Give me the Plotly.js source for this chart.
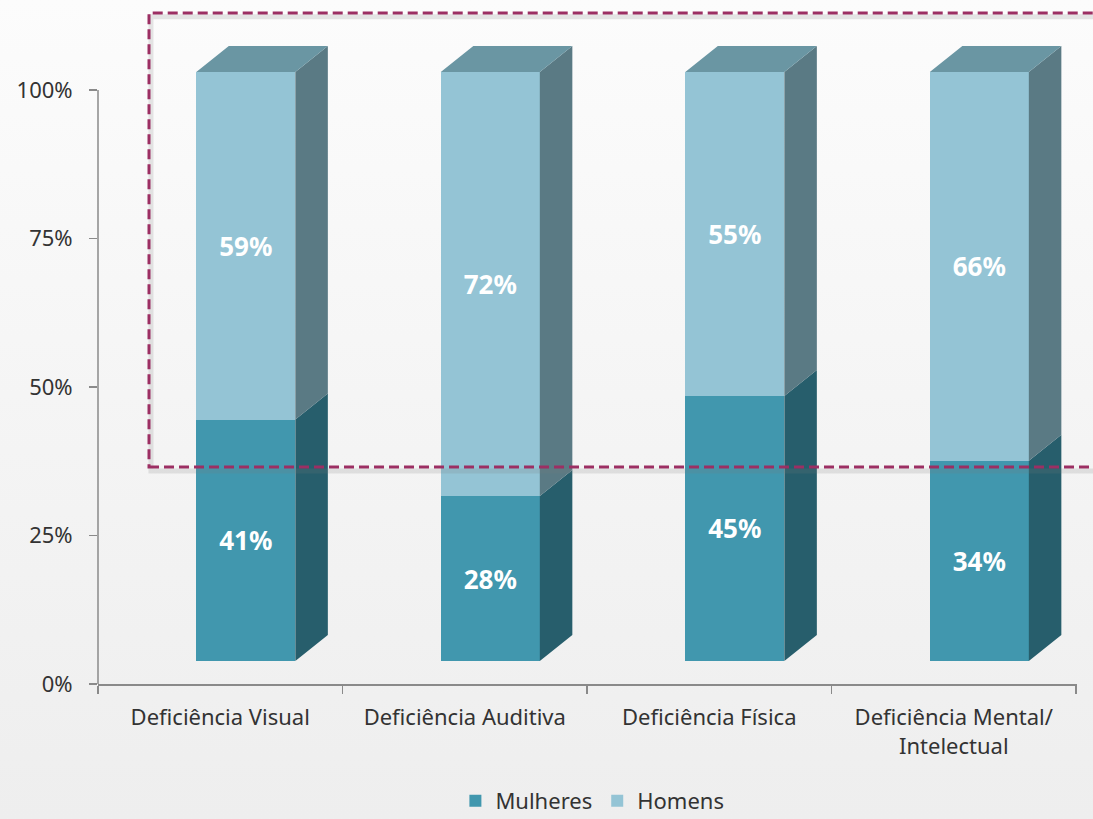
<!DOCTYPE html>
<html>
<head>
<meta charset="utf-8">
<script src="https://cdn.plot.ly/plotly-3.0.1.min.js"></script>
<style>
  html, body { margin:0; padding:0; width:1093px; height:819px; overflow:hidden;
    background: linear-gradient(to bottom, #fcfcfc 0%, #f4f4f4 55%, #eeeeee 100%); }
  #chart { width:1093px; height:819px; }
</style>
</head>
<body>
<div id="chart"></div>
<script>
// ---- data ----
const categories = ['Deficiência Visual', 'Deficiência Auditiva', 'Deficiência Física', 'Deficiência Mental/<br>Intelectual'];
const mulheres = [41, 28, 45, 34];
const homens = [59, 72, 55, 66];
const yTickVals = [0, 25, 50, 75, 100];
const yTickLabels = ['0%', '25%', '50%', '75%', '100%'];

// ---- style ----
const FONT = 'Noto Sans, Open Sans, sans-serif';
const colMulFront = '#4197ae', colMulSide = '#275e6c';
const colHomFront = '#94c4d5', colHomSide = '#5a7a84', colTop = '#6a96a3';
const BAR_W = 0.405, BAR_OFF = -0.098;   // bar width / offset in category units
const DX = 0.133, DY = 4.41;             // 3D depth offsets (x units, y units)

const idx = categories.map((_, i) => i);
const totals = mulheres.map((v, i) => v + homens[i]);

function sideFaces(bases, tops) {
  const xs = [], ys = [];
  idx.forEach(i => {
    const xr = i + BAR_OFF + BAR_W;
    xs.push(xr, xr + DX, xr + DX, xr, xr, null);
    ys.push(bases[i], bases[i] + DY, tops[i] + DY, tops[i], bases[i], null);
  });
  return {xs, ys};
}
function topFaces(tops) {
  const xs = [], ys = [];
  idx.forEach(i => {
    const xl = i + BAR_OFF, xr = xl + BAR_W;
    xs.push(xl, xr, xr + DX, xl + DX, xl, null);
    ys.push(tops[i], tops[i], tops[i] + DY, tops[i] + DY, tops[i], null);
  });
  return {xs, ys};
}

const sMul = sideFaces(idx.map(() => 0), mulheres);
const sHom = sideFaces(mulheres, totals);
const tTop = topFaces(totals);

const textFont = {family: FONT, size: 26, color: '#ffffff', weight: 'bold'};

const traces = [
  {type: 'bar', name: 'Mulheres', x: idx, y: mulheres, width: BAR_W, offset: BAR_OFF,
   marker: {color: colMulFront, line: {width: 0}},
   text: mulheres.map(v => v + '%'), textposition: 'inside', insidetextanchor: 'middle',
   textangle: 0, textfont: textFont, hoverinfo: 'skip'},
  {type: 'bar', name: 'Homens', x: idx, y: homens, width: BAR_W, offset: BAR_OFF,
   marker: {color: colHomFront, line: {width: 0}},
   text: homens.map(v => v + '%'), textposition: 'inside', insidetextanchor: 'middle',
   textangle: 0, textfont: textFont, hoverinfo: 'skip'},
  {type: 'scatter', mode: 'lines', x: sMul.xs, y: sMul.ys, fill: 'toself', fillcolor: colMulSide,
   line: {width: 0, color: colMulSide}, showlegend: false, hoverinfo: 'skip'},
  {type: 'scatter', mode: 'lines', x: sHom.xs, y: sHom.ys, fill: 'toself', fillcolor: colHomSide,
   line: {width: 0, color: colHomSide}, showlegend: false, hoverinfo: 'skip'},
  {type: 'scatter', mode: 'lines', x: tTop.xs, y: tTop.ys, fill: 'toself', fillcolor: colTop,
   line: {width: 0, color: colTop}, showlegend: false, hoverinfo: 'skip'}
];

const layout = {
  width: 1093, height: 819,
  margin: {l: 98, r: 16, t: 20, b: 135, autoexpand: false},
  paper_bgcolor: 'rgba(0,0,0,0)', plot_bgcolor: 'rgba(0,0,0,0)',
  barmode: 'stack', hovermode: false,
  showlegend: true,
  legend: {orientation: 'h', x: 0.505, xanchor: 'center', y: -0.176, yanchor: 'middle',
           font: {family: FONT, size: 22, color: '#333333'}, bgcolor: 'rgba(0,0,0,0)',
           traceorder: 'normal'},
  font: {family: FONT, color: '#333333'},
  xaxis: {type: 'linear', range: [-0.5, 3.504], tickvals: idx, ticktext: categories,
          ticks: '', showgrid: false, zeroline: false, showline: true, linecolor: '#8a8a8a', linewidth: 1.5,
          tickfont: {family: FONT, size: 22, color: '#333333'}, ticklabelstandoff: 13, automargin: false,
          minor: {ticks: 'outside', tick0: -0.5, dtick: 1, ticklen: 8, tickcolor: '#8a8a8a', tickwidth: 1.5, showgrid: false},
          fixedrange: true},
  yaxis: {range: [-3.905, 108.83], visible: false, showgrid: false, zeroline: false, fixedrange: true},
  yaxis2: {overlaying: 'y', side: 'left', anchor: 'x', range: [0, 111.78],
           tickvals: yTickVals, ticktext: yTickLabels, ticks: 'outside', ticklen: 8,
           tickcolor: '#8a8a8a', tickwidth: 1.5, showgrid: false, zeroline: false, showline: false,
           tickfont: {family: FONT, size: 22, color: '#333333'}, ticklabelstandoff: 12, automargin: false,
           fixedrange: true},
  shapes: [
    // y-axis line from 0% to 100%
    {type: 'line', xref: 'paper', yref: 'y2', x0: 0, x1: 0, y0: 0, y1: 100,
     line: {color: '#8a8a8a', width: 1.5}, layer: 'above'},
    // shadow of dashed frame
    {type: 'rect', xref: 'paper', yref: 'paper', x0: 0.0541, x1: 1.03, y0: 0.3208, y1: 1.005,
     line: {color: 'rgba(120,120,120,0.18)', width: 5}, layer: 'above'},
    // dashed highlight frame
    {type: 'rect', xref: 'paper', yref: 'paper', x0: 0.0521, x1: 1.03, y0: 0.3268, y1: 1.0105,
     line: {color: '#9c2f63', width: 3, dash: '10px,5px'}, layer: 'above'}
  ]
};

Plotly.newPlot('chart', traces, layout, {displayModeBar: false, staticPlot: true});
</script>
</body>
</html>
